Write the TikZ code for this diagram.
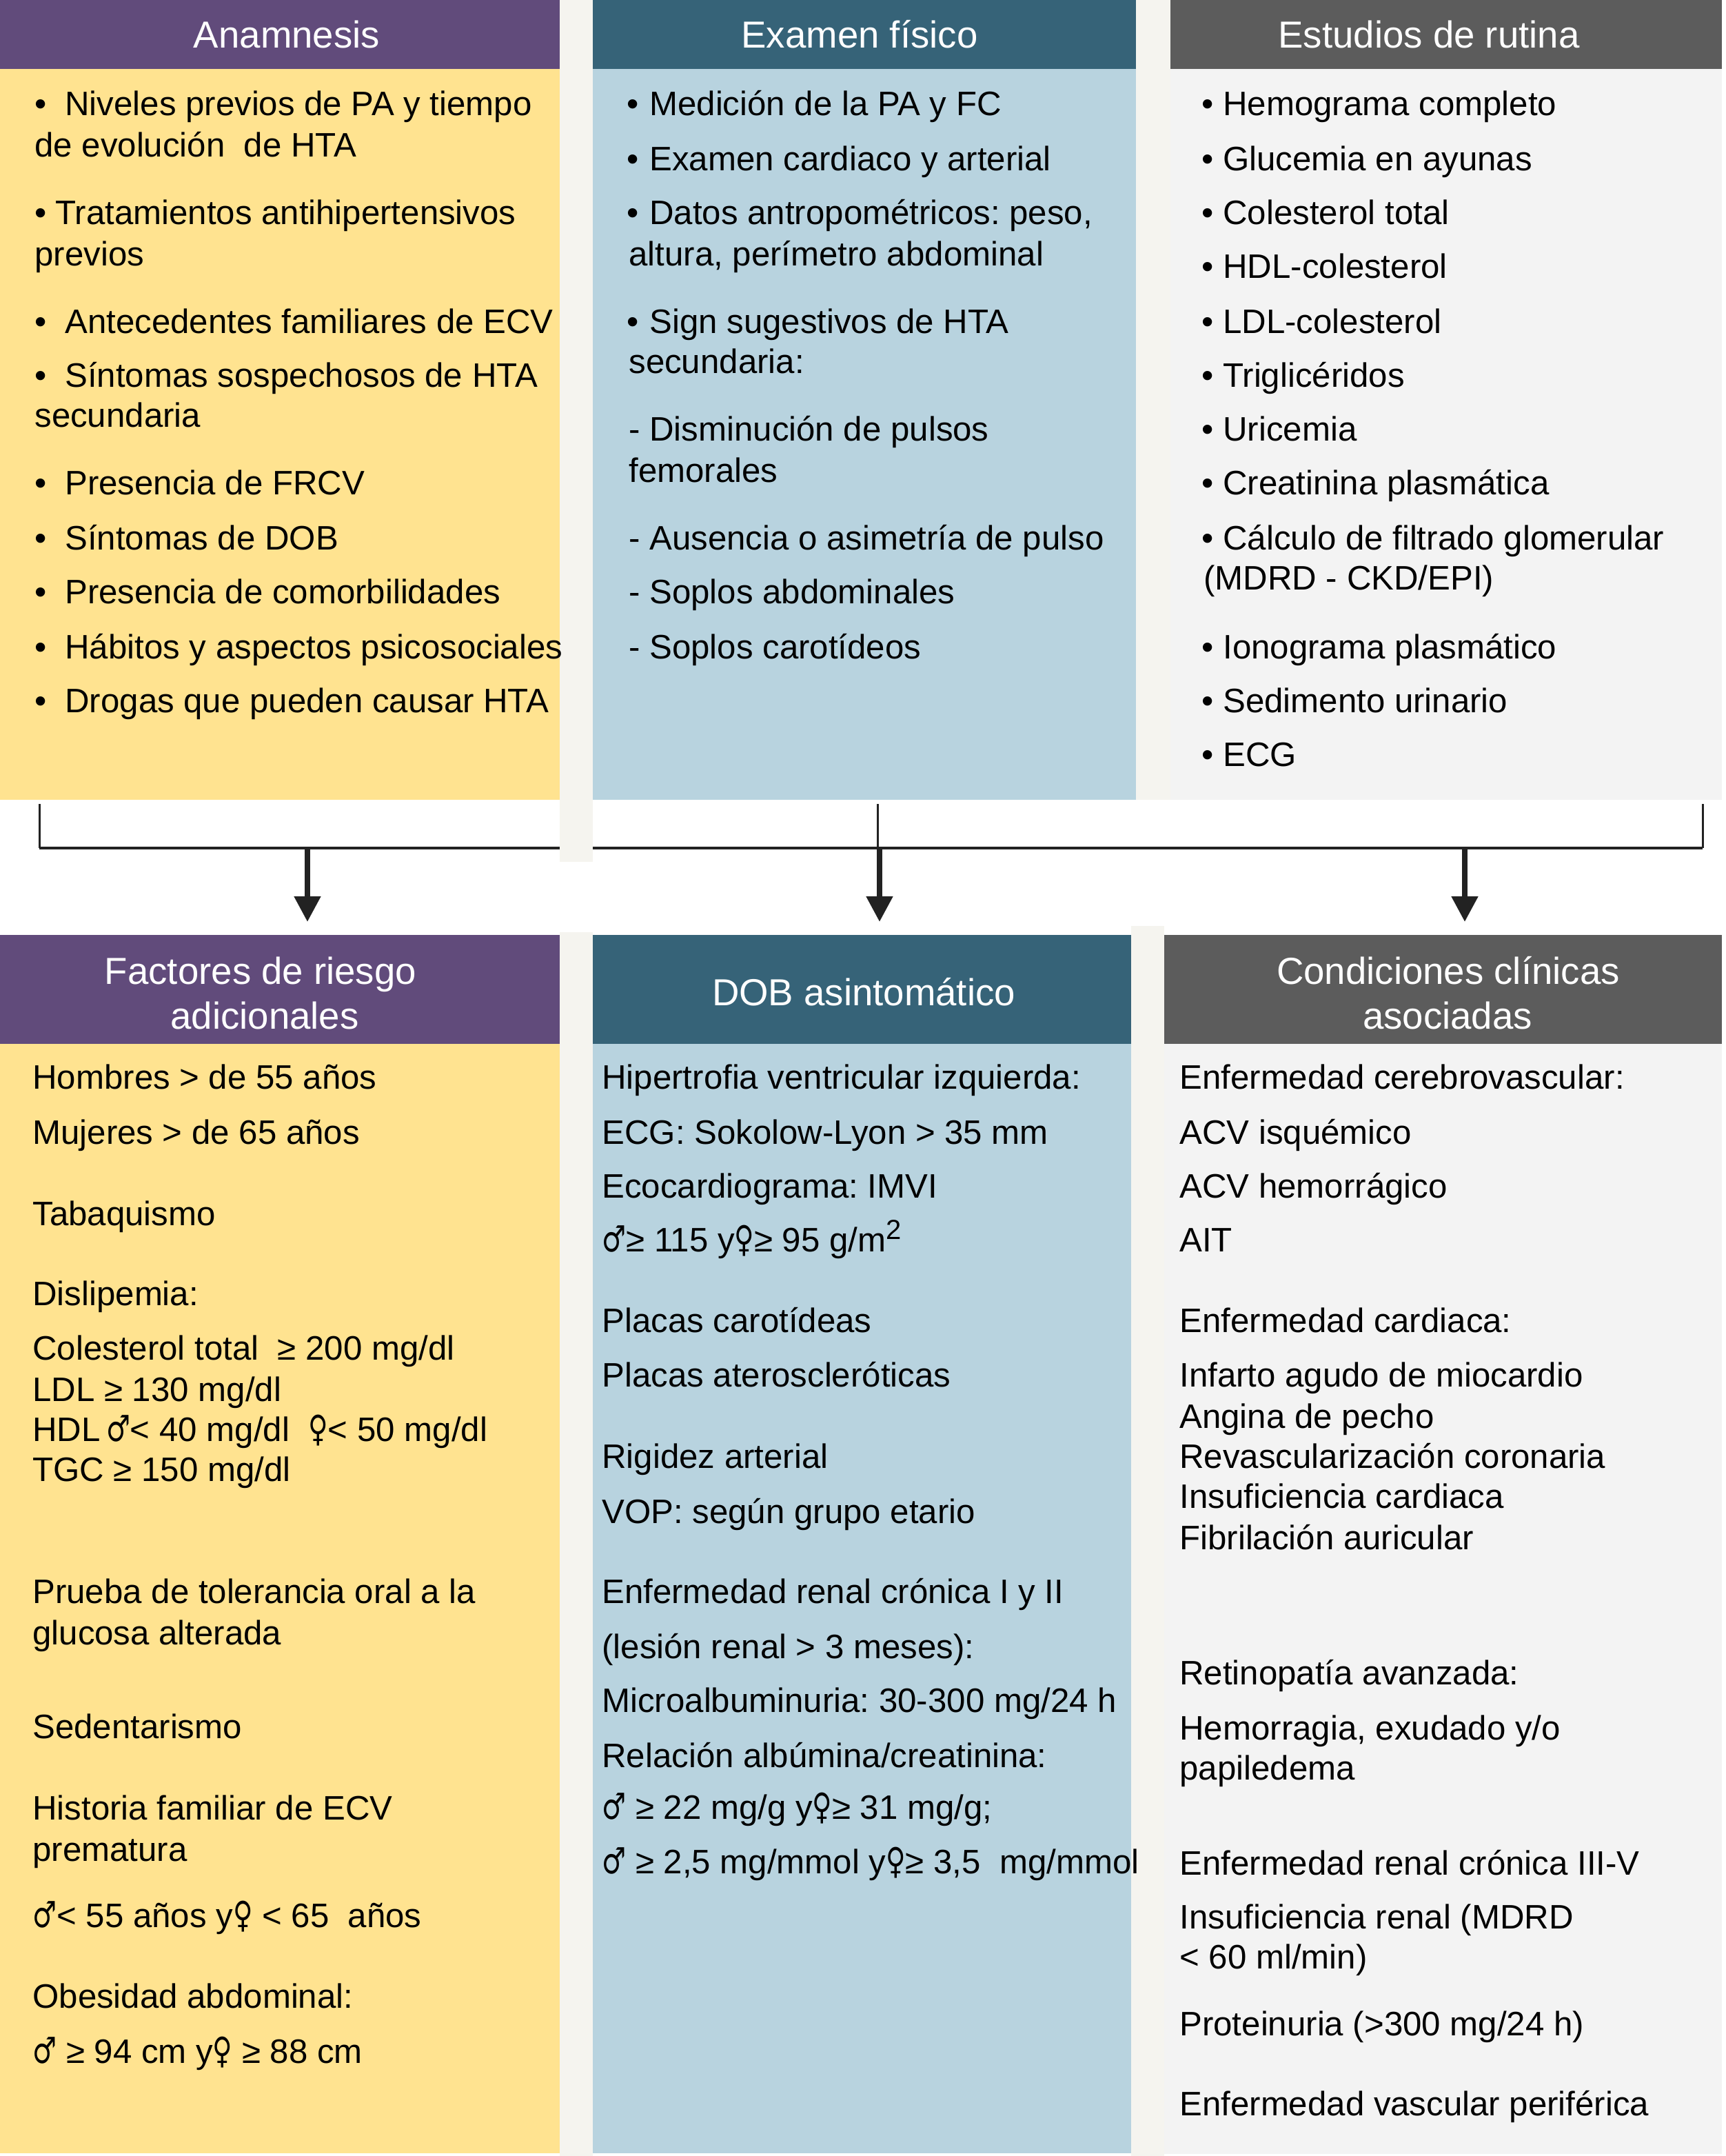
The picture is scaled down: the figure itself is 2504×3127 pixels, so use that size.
\documentclass[tikz,border=0pt]{standalone}
\usepackage{fontspec}
\usepackage{graphicx}
\setmainfont{Liberation Sans}
\newfontfamily\sexfont{DejaVu Sans}
\usetikzlibrary{arrows.meta}
\definecolor{hpurple}{HTML}{614B7B}
\definecolor{hteal}{HTML}{366378}
\definecolor{hgray}{HTML}{5C5C5C}
\definecolor{byellow}{HTML}{FFE390}
\definecolor{bblue}{HTML}{B8D3DF}
\definecolor{bgray}{HTML}{F3F3F3}
\definecolor{stripc}{HTML}{F5F4EF}
\definecolor{arrowc}{HTML}{222222}
\newcommand\msym{\scalebox{0.78}[1.05]{\sexfont\fontsize{25}{30}\selectfont ♂}}
\newcommand\fsym{\scalebox{0.78}[1.05]{\sexfont\fontsize{25}{30}\selectfont ♀}}
\newcommand\sqr{\raisebox{9pt}{\fontsize{20}{20}\selectfont 2}}
\newcommand\bu[1]{\makebox[#1][l]{•}}
\frenchspacing
\begin{document}
\begin{tikzpicture}[x=0.5pt,y=-0.5pt,
  boxsty/.style={anchor=north west, inner sep=0pt, outer sep=0pt, draw=none},
  txt/.style={anchor=base west, inner sep=0pt, font=\fontsize{24.6}{30}\selectfont},
  hdr/.style={anchor=base, inner sep=0pt, text=white, font=\fontsize{27.3}{33}\selectfont},
  thinline/.style={draw=arrowc, line width=1.5pt},
  busline/.style={draw=arrowc, line width=2.2pt},
  arr/.style={draw=arrowc, line width=4pt, -{Triangle[length=18.5pt,width=18.5pt]}},
]
\fill[white] (0,0) rectangle (2504,3127);
\useasboundingbox (0,0) rectangle (2504,3127);

% top boxes
\node[boxsty, fill=hpurple, minimum width=406pt, minimum height=50pt] (h1) at (0,0) {};
\node[boxsty, fill=hteal, minimum width=394pt, minimum height=50pt] (h2) at (860,0) {};
\node[boxsty, fill=hgray, minimum width=400pt, minimum height=50pt] (h3) at (1698,0) {};
\node[boxsty, fill=byellow, minimum width=406pt, minimum height=530pt] (b1) at (0,100) {};
\node[boxsty, fill=bblue, minimum width=394pt, minimum height=530pt] (b2) at (860,100) {};
\node[boxsty, fill=bgray, minimum width=400pt, minimum height=530pt] (b3) at (1698,100) {};

% bottom boxes
\node[boxsty, fill=hpurple, minimum width=406pt, minimum height=79pt] (h4) at (0,1356) {};
\node[boxsty, fill=hteal, minimum width=390.5pt, minimum height=79pt] (h5) at (860,1356) {};
\node[boxsty, fill=hgray, minimum width=404.5pt, minimum height=79pt] (h6) at (1689,1356) {};
\node[boxsty, fill=byellow, minimum width=406pt, minimum height=804.5pt] (b4) at (0,1514) {};
\node[boxsty, fill=bblue, minimum width=390.5pt, minimum height=804.5pt] (b5) at (860,1514) {};
\node[boxsty, fill=bgray, minimum width=404.5pt, minimum height=805pt] (b6) at (1689,1514) {};

% connectors
\coordinate (j1) at (57,1230);
\coordinate (j2) at (1273,1230);
\coordinate (j3) at (2470,1230);
\coordinate (k1) at (446,1230);
\coordinate (k2) at (1276,1230);
\coordinate (k3) at (2125,1230);
\draw[thinline, shorten <=3pt] (b1.south -| j1) -- (j1);
\draw[thinline, shorten <=3pt] (b2.south -| j2) -- (j2);
\draw[thinline, shorten <=3pt] (b3.south -| j3) -- (j3);
\draw[busline] (j1) -- (j3);
\draw[arr, shorten >=9.5pt] (k1) -- (k1 |- h4.north);
\draw[arr, shorten >=9.5pt] (k2) -- (k2 |- h5.north);
\draw[arr, shorten >=9.5pt] (k3) -- (k3 |- h6.north);

% strips
\node[boxsty, fill=stripc, minimum width=24pt, minimum height=625pt] (s1) at (812,0) {};
\node[boxsty, fill=stripc, minimum width=25pt, minimum height=580pt] (s2) at (1648,0) {};
\node[boxsty, fill=stripc, minimum width=24pt, minimum height=887.5pt] (s3) at (812,1352) {};
\node[boxsty, fill=stripc, minimum width=24pt, minimum height=892pt] (s4) at (1641,1343) {};

% headers
\node[hdr] (ht1) at (416,69) {Anamnesis};
\node[hdr] (ht2) at (1247,69) {Examen físico};
\node[hdr] (ht3) at (2073,69) {Estudios de rutina};
\node[hdr] (ht4) at (378,1427) {Factores de riesgo};
\node[hdr] (ht4b) at (384,1492) {adicionales};
\node[hdr] (ht5) at (1253,1458) {DOB asintomático};
\node[hdr] (ht6) at (2101,1427) {Condiciones clínicas};
\node[hdr] (ht6b) at (2100,1492) {asociadas};

% Anamnesis
\node[txt] (a1) at (50,167) {\bu{22pt}Niveles previos de PA y tiempo};
\node[txt] (a2) at (50,227) {de evolución~ de HTA};
\node[txt] (a3) at (50,325) {\bu{15pt}Tratamientos antihipertensivos};
\node[txt] (a4) at (50,385) {previos};
\node[txt] (a5) at (50,483) {\bu{22pt}Antecedentes familiares de ECV};
\node[txt] (a6) at (50,561) {\bu{22pt}Síntomas sospechosos de HTA};
\node[txt] (a7) at (50,619) {secundaria};
\node[txt] (a8) at (50,717) {\bu{22pt}Presencia de FRCV};
\node[txt] (a9) at (50,797) {\bu{22pt}Síntomas de DOB};
\node[txt] (a10) at (50,875) {\bu{22pt}Presencia de comorbilidades};
\node[txt] (a11) at (50,955) {\bu{22pt}Hábitos y aspectos psicosociales};
\node[txt] (a12) at (50,1033) {\bu{22pt}Drogas que pueden causar HTA};

% Examen fisico
\node[txt] (e1) at (909,167) {\bu{16.5pt}Medición de la PA y FC};
\node[txt] (e2) at (909,247) {\bu{16.5pt}Examen cardiaco y arterial};
\node[txt] (e3) at (909,325) {\bu{16.5pt}Datos antropométricos: peso,};
\node[txt] (e4) at (912,385) {altura, perímetro abdominal};
\node[txt] (e5) at (909,483) {\bu{16.5pt}Sign sugestivos de HTA};
\node[txt] (e6) at (912,541) {secundaria:};
\node[txt] (e7) at (912,639) {- Disminución de pulsos};
\node[txt] (e8) at (912,699) {femorales};
\node[txt] (e9) at (912,797) {- Ausencia o asimetría de pulso};
\node[txt] (e10) at (912,875) {- Soplos abdominales};
\node[txt] (e11) at (912,955) {- Soplos carotídeos};

% Estudios de rutina
\node[txt] (r1) at (1743,167) {\bu{15.5pt}Hemograma completo};
\node[txt] (r2) at (1743,247) {\bu{15.5pt}Glucemia en ayunas};
\node[txt] (r3) at (1743,325) {\bu{15.5pt}Colesterol total};
\node[txt] (r4) at (1743,403) {\bu{15.5pt}HDL-colesterol};
\node[txt] (r5) at (1743,483) {\bu{15.5pt}LDL-colesterol};
\node[txt] (r6) at (1743,561) {\bu{15.5pt}Triglicéridos};
\node[txt] (r7) at (1743,639) {\bu{15.5pt}Uricemia};
\node[txt] (r8) at (1743,717) {\bu{15.5pt}Creatinina plasmática};
\node[txt] (r9) at (1743,797) {\bu{15.5pt}Cálculo de filtrado glomerular};
\node[txt] (r10) at (1746,855) {(MDRD - CKD/EPI)};
\node[txt] (r11) at (1743,955) {\bu{15.5pt}Ionograma plasmático};
\node[txt] (r12) at (1743,1033) {\bu{15.5pt}Sedimento urinario};
\node[txt] (r13) at (1743,1111) {\bu{15.5pt}ECG};

% Factores de riesgo
\node[txt] (f1) at (47,1579) {Hombres > de 55 años};
\node[txt] (f2) at (47,1659) {Mujeres > de 65 años};
\node[txt] (f3) at (47,1777) {Tabaquismo};
\node[txt] (f4) at (47,1893) {Dislipemia:};
\node[txt] (f5) at (47,1972) {Colesterol total~ ≥ 200 mg/dl};
\node[txt] (f6) at (47,2032) {LDL ≥ 130 mg/dl};
\node[txt] (f7) at (47,2090) {HDL\,\msym< 40 mg/dl~ \fsym< 50 mg/dl};
\node[txt] (f8) at (47,2148) {TGC ≥ 150 mg/dl};
\node[txt] (f9) at (47,2325) {Prueba de tolerancia oral a la};
\node[txt] (f10) at (47,2385) {glucosa alterada};
\node[txt] (f11) at (47,2521) {Sedentarismo};
\node[txt] (f12) at (47,2639) {Historia familiar de ECV};
\node[txt] (f13) at (47,2699) {prematura};
\node[txt] (f14) at (47,2795) {\msym< 55 años y\fsym{} < 65~ años};
\node[txt] (f15) at (47,2912) {Obesidad abdominal:};
\node[txt] (f16) at (47,2992) {\msym{} ≥ 94 cm y\fsym{} ≥ 88 cm};

% DOB asintomatico
\node[txt] (d1) at (873,1579) {Hipertrofia ventricular izquierda:};
\node[txt] (d2) at (873,1659) {ECG: Sokolow-Lyon > 35 mm};
\node[txt] (d3) at (873,1737) {Ecocardiograma: IMVI};
\node[txt] (d4) at (873,1815) {\msym≥ 115 y\fsym≥ 95 g/m\sqr};
\node[txt] (d5) at (873,1932) {Placas carotídeas};
\node[txt] (d6) at (873,2011) {Placas ateroscleróticas};
\node[txt] (d7) at (873,2129) {Rigidez arterial};
\node[txt] (d8) at (873,2209) {VOP: según grupo etario};
\node[txt] (d9) at (873,2325) {Enfermedad renal crónica I y II};
\node[txt] (d10) at (873,2405) {(lesión renal > 3 meses):};
\node[txt] (d11) at (873,2483) {Microalbuminuria: 30-300 mg/24 h};
\node[txt] (d12) at (873,2563) {Relación albúmina/creatinina:};
\node[txt] (d13) at (873,2638) {\msym{} ≥ 22 mg/g y\fsym≥ 31 mg/g;};
\node[txt] (d14) at (873,2717) {\msym{} ≥ 2,5 mg/mmol y\fsym≥ 3,5~ mg/mmol};

% Condiciones clinicas asociadas
\node[txt] (c1) at (1711,1579) {Enfermedad cerebrovascular:};
\node[txt] (c2) at (1711,1659) {ACV isquémico};
\node[txt] (c3) at (1711,1737) {ACV hemorrágico};
\node[txt] (c4) at (1711,1815) {AIT};
\node[txt] (c5) at (1711,1932) {Enfermedad cardiaca:};
\node[txt] (c6) at (1711,2011) {Infarto agudo de miocardio};
\node[txt] (c7) at (1711,2071) {Angina de pecho};
\node[txt] (c8) at (1711,2129) {Revascularización coronaria};
\node[txt] (c9) at (1711,2187) {Insuficiencia cardiaca};
\node[txt] (c10) at (1711,2247) {Fibrilación auricular};
\node[txt] (c11) at (1711,2443) {Retinopatía avanzada:};
\node[txt] (c12) at (1711,2523) {Hemorragia, exudado y/o};
\node[txt] (c13) at (1711,2581) {papiledema};
\node[txt] (c14) at (1711,2719) {Enfermedad renal crónica III-V};
\node[txt] (c15) at (1711,2797) {Insuficiencia renal (MDRD};
\node[txt] (c16) at (1711,2855) {< 60 ml/min)};
\node[txt] (c17) at (1711,2952) {Proteinuria (>300 mg/24 h)};
\node[txt] (c18) at (1711,3068) {Enfermedad vascular periférica};
\end{tikzpicture}
\end{document}
